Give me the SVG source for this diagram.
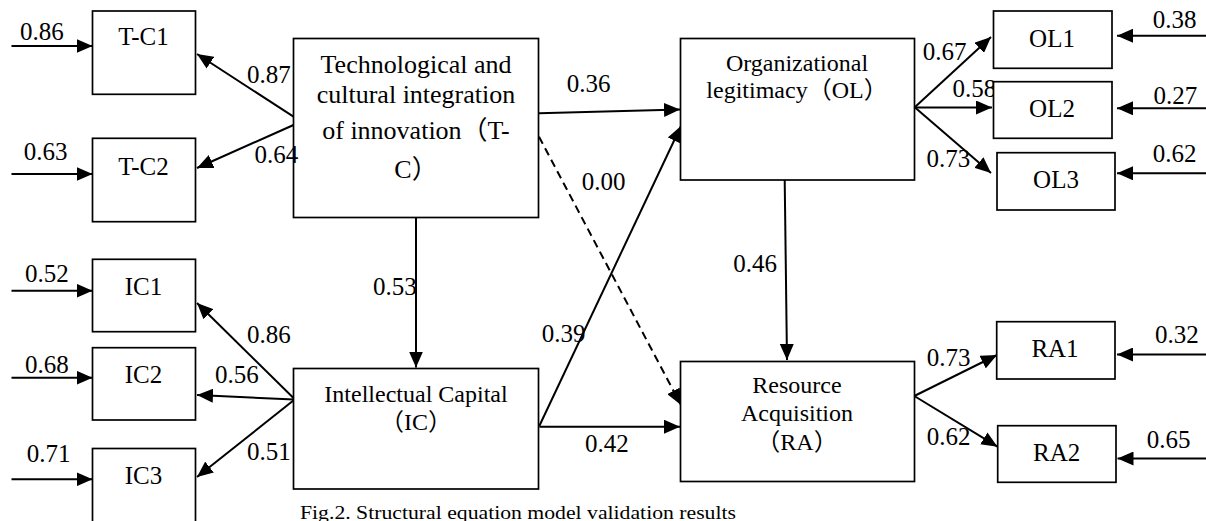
<svg xmlns="http://www.w3.org/2000/svg" width="1206" height="521" viewBox="0 0 1206 521">
<style>
.box{fill:#fff;stroke:#000;stroke-width:1.7}
.t{font-family:"Liberation Serif","Times New Roman","Noto Sans CJK SC",serif;fill:#000}
.n{font-size:24px;text-anchor:middle}
.tc{font-size:26px;text-anchor:middle}
.leaf{font-size:25px;text-anchor:middle}
.lbl{font-size:25px}
.e{fill:none;stroke:#000;stroke-width:2;marker-end:url(#ah)}
.d{stroke-dasharray:8 5}
</style>
<defs>
<marker id="ah" viewBox="0 0 16 14" refX="16" refY="7" markerWidth="16" markerHeight="14" markerUnits="userSpaceOnUse" orient="auto">
<path d="M0,0 L16,7 L0,14 z" fill="#000"/>
</marker>
</defs>
<rect width="1206" height="521" fill="#fff"/>

<g id="connectors">
<path class="e" d="M11.5,46 L92.5,46"/>
<path class="e" d="M11.5,174 L92.5,174"/>
<path class="e" d="M11.5,290.7 L92.5,290.7"/>
<path class="e" d="M11.5,377.7 L92.5,377.7"/>
<path class="e" d="M11.5,479.3 L92.5,479.3"/>
<path class="e" d="M293.5,116.7 L197,54"/>
<path class="e" d="M293.5,125 L197,168"/>
<path class="e" d="M294,398.5 L197,303"/>
<path class="e" d="M294,399.5 L197,395"/>
<path class="e" d="M294,400 L197,477"/>
<path class="e" d="M416,218 L416,367.5"/>
<path class="e" d="M539,113.3 L680,109.5"/>
<path class="e d" d="M539,136.7 L681,405"/>
<path class="e" d="M539.3,426 L681,126"/>
<path class="e" d="M539.3,426.7 L680,426.7"/>
<path class="e" d="M784.7,180 L787,360"/>
<path class="e" d="M915,107 L991,37"/>
<path class="e" d="M915,107.5 L992,107.5"/>
<path class="e" d="M915,107.5 L991,173"/>
<path class="e" d="M914.3,396 L997,355"/>
<path class="e" d="M914.3,396 L997.5,446.7"/>
<path class="e" d="M1206,35.7 L1117,35.7"/>
<path class="e" d="M1206,108.3 L1117,108.3"/>
<path class="e" d="M1206,173.3 L1117,173.3"/>
<path class="e" d="M1206,354.5 L1117,354.5"/>
<path class="e" d="M1206,458.5 L1117.5,458.5"/>
</g>

<g id="labels-under" class="t lbl">
<text x="952.5" y="96.7">0.58</text>
</g>

<g id="TC">
<rect class="box" x="293.5" y="38.5" width="245" height="179"/>
<text class="t tc" x="416" y="72.7">Technological and</text>
<text class="t tc" x="416" y="103.3">cultural integration</text>
<text class="t tc" x="416" y="139.3">of innovation（T-</text>
<text class="t tc" x="416" y="178.3">C）</text>
</g>
<g id="IC">
<rect class="box" x="293.5" y="368.5" width="245" height="120.5"/>
<text class="t n" x="416" y="401.7">Intellectual Capital</text>
<text class="t n" x="416" y="430">（IC）</text>
</g>
<g id="OL">
<rect class="box" x="680.5" y="38.5" width="234" height="141.5"/>
<text class="t n" x="797" y="71">Organizational</text>
<text class="t n" x="797" y="98">legitimacy（OL）</text>
</g>
<g id="RA">
<rect class="box" x="680.5" y="361.5" width="234" height="120"/>
<text class="t n" x="797" y="393.3">Resource</text>
<text class="t n" x="797" y="421">Acquisition</text>
<text class="t n" x="797" y="450">（RA）</text>
</g>

<g id="TC1"><rect class="box" x="92.5" y="11" width="103" height="83.3"/><text class="t leaf" x="143.5" y="45">T-C1</text></g>
<g id="TC2"><rect class="box" x="92.5" y="138.3" width="103" height="83.4"/><text class="t leaf" x="143.5" y="175">T-C2</text></g>
<g id="IC1"><rect class="box" x="92.5" y="259.3" width="103" height="72.4"/><text class="t leaf" x="143.5" y="295">IC1</text></g>
<g id="IC2"><rect class="box" x="92.5" y="347.7" width="103" height="72.3"/><text class="t leaf" x="143.5" y="382.7">IC2</text></g>
<g id="IC3"><rect class="box" x="92.5" y="448.5" width="103" height="76"/><text class="t leaf" x="143.5" y="484">IC3</text></g>
<g id="OL1"><rect class="box" x="993.5" y="11" width="118.5" height="57.3"/><text class="t leaf" x="1052" y="47">OL1</text></g>
<g id="OL2"><rect class="box" x="993.5" y="81.7" width="118.5" height="56.6"/><text class="t leaf" x="1052" y="116.7">OL2</text></g>
<g id="OL3"><rect class="box" x="997" y="152.7" width="118" height="57.3"/><text class="t leaf" x="1056" y="188">OL3</text></g>
<g id="RA1"><rect class="box" x="996.7" y="321.7" width="118.3" height="57.3"/><text class="t leaf" x="1055" y="357.3">RA1</text></g>
<g id="RA2"><rect class="box" x="997.7" y="425.7" width="118.3" height="56.6"/><text class="t leaf" x="1056.7" y="461">RA2</text></g>

<g id="labels" class="t lbl">
<text x="20" y="40">0.86</text>
<text x="23.7" y="160">0.63</text>
<text x="247" y="83">0.87</text>
<text x="254.5" y="163">0.64</text>
<text x="566.7" y="91.7">0.36</text>
<text x="581.7" y="190">0.00</text>
<text x="373" y="295">0.53</text>
<text x="25" y="282.3">0.52</text>
<text x="25" y="373.3">0.68</text>
<text x="26.7" y="461.7">0.71</text>
<text x="247" y="342.7">0.86</text>
<text x="215" y="383.3">0.56</text>
<text x="247" y="460">0.51</text>
<text x="541.7" y="341.7">0.39</text>
<text x="585" y="451.7">0.42</text>
<text x="733.3" y="271.7">0.46</text>
<text x="922.7" y="60">0.67</text>
<text x="926.6" y="166.7">0.73</text>
<text x="1152.7" y="28.3">0.38</text>
<text x="1153.5" y="104">0.27</text>
<text x="1152.7" y="161.7">0.62</text>
<text x="926.7" y="365.7">0.73</text>
<text x="926.7" y="445">0.62</text>
<text x="1155" y="343.3">0.32</text>
<text x="1146.7" y="448.3">0.65</text>
</g>

<text class="t" x="300" y="519" font-size="19" textLength="436" lengthAdjust="spacingAndGlyphs">Fig.2. Structural equation model validation results</text>
</svg>
